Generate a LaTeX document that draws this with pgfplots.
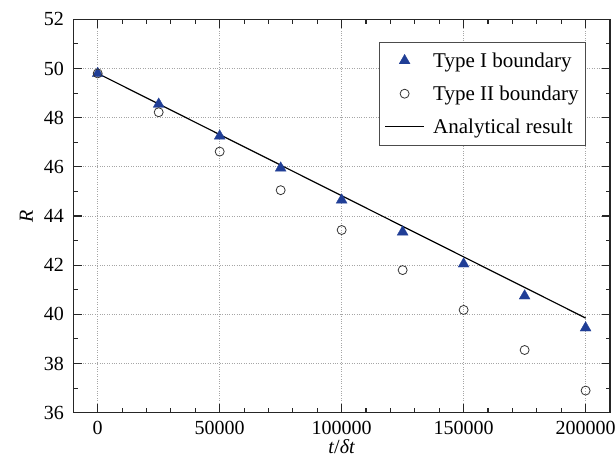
\documentclass[border=0pt]{standalone}
\usepackage{fontspec}
\setmainfont{Liberation Serif}
\usepackage{pgfplots}
\pgfplotsset{compat=1.18}
\definecolor{triblue}{RGB}{32,62,150}
\pgfplotsset{longline/.style={legend image code/.code={\draw[##1] (0.3cm-19.5pt,0cm) -- (0.3cm+19.5pt,0cm);\path (0.3cm+26pt,0cm);}}}
\begin{document}
\begin{tikzpicture}
\begin{axis}[name=ax,
  scale only axis, width=536.7pt, height=393.4pt,
  xmin=-10000, xmax=210000, ymin=36, ymax=52,
  xtick={0,50000,100000,150000,200000},
  ytick={36,38,40,42,44,46,48,50,52},
  minor x tick num=4, minor y tick num=1,
  tick align=inside, tick pos=both,
  xticklabel pos=left, yticklabel pos=left,
  scaled x ticks=false,
  /pgf/number format/fixed,
  /pgf/number format/precision=0,
  /pgf/number format/1000 sep={},
  /pgf/number format/assume math mode=true,
  major tick length=8.5pt, minor tick length=4.5pt,
  tick style={line width=1.1pt, black!85},
  axis line style={line width=1.5pt, black!85},
  grid=major,
  major grid style={dotted, line width=0.8pt, gray!70},
  ticklabel style={font=\fontsize{20}{20}\selectfont},
  xticklabel style={yshift=-7pt, inner ysep=1pt},
  yticklabel style={xshift=-6pt},
  label style={font=\fontsize{20}{20}\selectfont},
  xlabel={\textit{t}/\textit{δt}},
  ylabel={\textit{R}},
  xlabel style={yshift=-3pt, inner sep=1pt},
  ylabel style={yshift=4pt},
  legend cell align=left,
  legend style={at={(1,1)}, anchor=north east, xshift=-24pt, yshift=-23pt,
    font=\fontsize{21}{23}\selectfont, draw=black!70, line width=0.6pt,
    inner xsep=5pt, inner ysep=8pt, row sep=13pt},
]
\addplot[only marks, mark=triangle*, mark size=6.3pt, color=triblue, mark options={fill=triblue, draw=triblue, line width=0.3pt}]
coordinates {(0,49.8) (25000,48.55) (50000,47.25) (75000,45.95) (100000,44.65) (125000,43.35) (150000,42.05) (175000,40.75) (200000,39.45)};
\addlegendentry{Type I boundary}
\addplot[only marks, mark=o, mark size=4.5pt, color=black!80, mark options={line width=0.8pt}]
coordinates {(0,49.8) (25000,48.22) (50000,46.62) (75000,45.05) (100000,43.43) (125000,41.8) (150000,40.18) (175000,38.55) (200000,36.9)};
\addlegendentry{Type II boundary}
\addplot[black, line width=1.2pt, longline]
coordinates {(0,49.8) (200000,39.85)};
\addlegendentry{Analytical result}
\end{axis}
\pgfresetboundingbox
\path[use as bounding box] (ax.south west) ++(-73.3pt,-52.3pt) rectangle ([xshift=5pt,yshift=19.3pt]ax.north east);
\end{tikzpicture}
\end{document}
